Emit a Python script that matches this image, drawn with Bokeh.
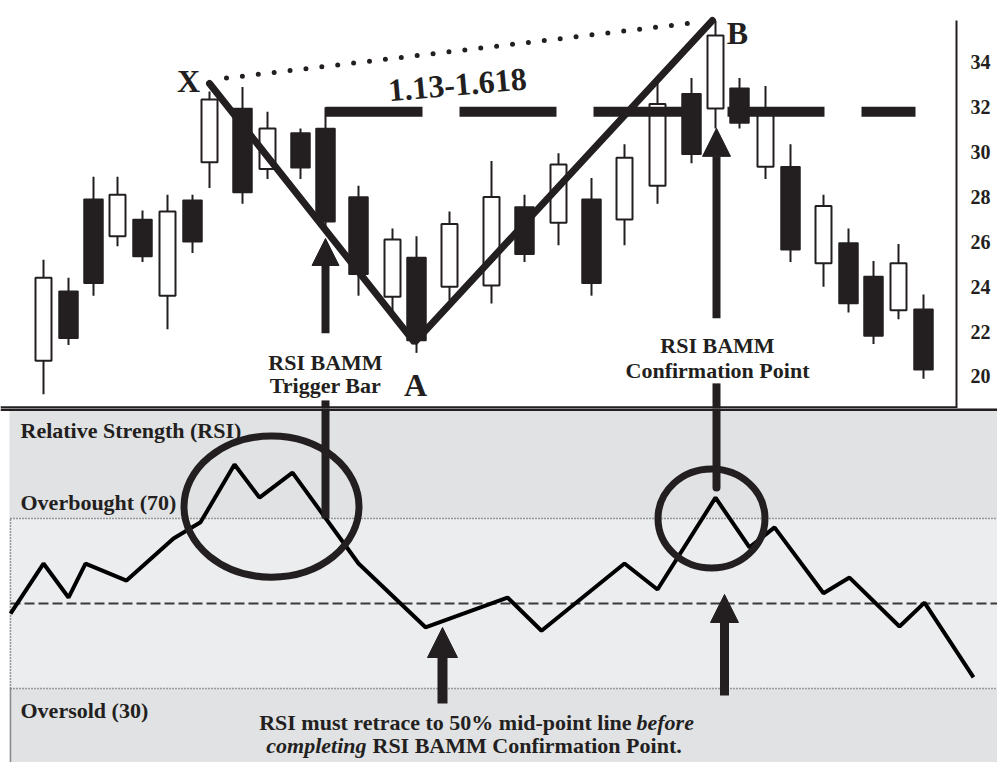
from bokeh.plotting import figure
from bokeh.layouts import column
from bokeh.models import Arrow, NormalHead, FixedTicker
from bokeh.core.properties import value
from bokeh.embed import file_html
from bokeh.resources import INLINE

INK = "#231f20"
FONT = value("Liberation Serif")

# ---- price candles (time position, OHLC) ----
t = [43, 68, 93, 117, 142, 167, 192, 209, 242, 267, 300, 325, 358, 392, 416, 449,
     491, 524, 558, 591, 624, 657, 691, 715, 739, 765, 790, 823, 848, 873, 898, 923]
opens = [20.7, 23.8, 27.9, 26.25, 27.0, 23.6, 27.85, 29.55, 31.95, 29.25, 30.85, 31.05,
         28.0, 23.55, 25.3, 24.0, 24.05, 27.55, 26.85, 27.9, 27.0, 28.5, 32.6, 31.95,
         32.85, 29.35, 29.35, 25.05, 25.95, 24.45, 22.95, 23.0]
highs = [25.2, 24.4, 28.9, 28.9, 27.4, 28.1, 28.1, 32.7, 32.9, 31.8, 31.05, 32.0,
         28.5, 26.6, 26.25, 27.35, 29.6, 28.1, 29.95, 28.85, 30.35, 33.1, 33.3, 35.85,
         33.3, 32.95, 30.35, 28.1, 26.6, 25.15, 25.9, 23.65]
lows = [19.2, 21.4, 23.6, 25.8, 25.1, 22.1, 25.5, 28.4, 27.7, 28.8, 28.8, 26.4,
        23.6, 22.85, 21.05, 23.4, 23.25, 25.1, 25.85, 23.6, 25.85, 27.7, 29.5, 31.05,
        31.05, 28.8, 25.1, 24.0, 22.85, 21.45, 22.55, 19.9]
closes = [24.4, 21.7, 24.15, 28.1, 25.35, 27.35, 26.0, 32.35, 28.2, 31.05, 29.3, 26.9,
          24.55, 26.1, 21.6, 26.8, 28.0, 25.45, 29.45, 24.15, 29.75, 32.15, 29.9, 35.2,
          31.3, 31.85, 25.65, 27.6, 23.25, 21.8, 25.05, 20.3]
price_ticks = [20, 22, 24, 26, 28, 30, 32, 34]

# ---- RSI ----
rsi_t = [10, 43, 68, 85, 126, 173, 200, 234, 259, 292, 358, 425, 507, 541, 624, 657,
         715, 749, 774, 823, 849, 899, 924, 973]
rsi = [47.6, 59.4, 51.4, 59.4, 55.4, 65.3, 69.1, 82.7, 74.9, 80.8, 59.4, 44.4, 51.4,
       43.6, 59.4, 53.3, 74.9, 63.2, 67.9, 52.4, 56.1, 44.6, 50.2, 32.6]
overbought, midline, oversold = 70, 50, 30

# pattern points X, A, B and the 1.13-1.618 level
xab_t = [209, 414, 712]
xab_p = [33.06, 21.52, 35.87]
level = 31.8

# ================= price panel =================
p1 = figure(frame_width=956, frame_height=408, x_range=(0, 956), y_range=(18.57, 36.76),
            output_backend="svg", toolbar_location=None,
            x_axis_location=None, y_axis_location="right", min_border=0)
p1.frame_align = False
p1.grid.visible = False
p1.outline_line_color = None
ax = p1.yaxis[0]
ax.ticker = FixedTicker(ticks=price_ticks)
ax.bounds = (18.0, 35.87)
ax.axis_line_width = 2
ax.axis_line_color = INK
ax.major_tick_line_color = None
ax.minor_tick_line_color = None
ax.major_tick_out = 0
ax.minor_tick_out = 0
ax.major_label_text_font = "Liberation Serif"
ax.major_label_text_font_size = "20px"
ax.major_label_text_font_style = "bold"
ax.major_label_text_color = INK
ax.major_label_standoff = 14

inc = [i for i in range(len(t)) if closes[i] > opens[i]]
dec = [i for i in range(len(t)) if closes[i] <= opens[i]]

p1.segment(x0=t, y0=highs, x1=t, y1=lows, line_color=INK, line_width=2)
p1.vbar(x=[t[i] for i in inc], bottom=[opens[i] for i in inc], top=[closes[i] for i in inc],
        width=16, fill_color="white", line_color=INK, line_width=2)
p1.vbar(x=[t[i] for i in dec], bottom=[closes[i] for i in dec], top=[opens[i] for i in dec],
        width=19, fill_color=INK, line_color=INK, line_width=1.5)

# level dashed line
p1.line(x=[325, 915], y=[level, level], line_color=INK, line_width=10, line_dash="97 37")
# X-A-B legs
p1.line(x=xab_t, y=xab_p, line_color=INK, line_width=7, line_cap="round")
# dotted X-B
p1.line(x=[226, 700], y=[33.3, 35.8], line_color=INK, line_width=5, line_dash="0 16",
        line_cap="round")

# connector lines down into RSI panel
p1.segment(x0=[325, 716], y0=[18.93, 19.69], x1=[325, 716], y1=[18.0, 18.0],
           line_color=INK, line_width=8)
# separator
p1.line(x=[0, 956], y=[18.60, 18.60], line_color=INK, line_width=3)

p1.add_layout(Arrow(end=NormalHead(size=27, fill_color=INK, line_color=INK, line_width=1),
                    x_start=325, y_start=21.92, x_end=325, y_end=26.15,
                    line_color=INK, line_width=8))
p1.add_layout(Arrow(end=NormalHead(size=28, fill_color=INK, line_color=INK, line_width=1),
                    x_start=716, y_start=22.59, x_end=716, y_end=31.06,
                    line_color=INK, line_width=8))

p1.text(x=[325, 325, 717, 717], y=[20.63, 19.60, 21.38, 20.27],
        text=["RSI BAMM", "Trigger Bar", "RSI BAMM", "Confirmation Point"],
        text_font=FONT, text_font_style="bold", text_font_size="22px",
        text_color=INK, text_align="center", text_baseline="alphabetic")
p1.text(x=[188, 415, 737], y=[33.15, 19.6, 35.29], text=["X", "A", "B"],
        text_font=FONT, text_font_style="bold", text_font_size="32px",
        text_color=INK, text_align="center", text_baseline="alphabetic")
p1.text(x=[457], y=[33.0], text=["1.13-1.618"], angle=0.087,
        text_font=FONT, text_font_style="bold", text_font_size="32px",
        text_color=INK, text_align="center", text_baseline="alphabetic")

# ================= RSI panel =================
p2 = figure(frame_width=997, frame_height=354, x_range=(0, 997), y_range=(12.59, 95.88),
            output_backend="svg", toolbar_location=None,
            x_axis_location=None, y_axis_location=None, min_border=0,
            background_fill_color="white")
p2.frame_align = False
p2.grid.visible = False
p2.outline_line_color = None

p2.quad(left=[9], right=[1000], bottom=[0], top=[100], fill_color="#e1e2e4", line_color=None)
p2.quad(left=[10], right=[1000], bottom=[oversold], top=[overbought],
        fill_color="#ecedef", line_color=None)
p2.segment(x0=[10, 10], y0=[overbought, oversold], x1=[1000, 1000], y1=[overbought, oversold],
           line_color="#4a4a4a", line_width=1.5, line_dash="1 2")
p2.segment(x0=[10], y0=[oversold], x1=[10], y1=[overbought],
           line_color="#4a4a4a", line_width=1.5, line_dash="1 2")
p2.segment(x0=[10], y0=[0], x1=[10], y1=[oversold], line_color="#8a8a8a", line_width=1.5)
p2.line(x=[10, 997], y=[midline, midline], line_color="#3a3a3a", line_width=2,
        line_dash="10 4")

p2.line(x=rsi_t, y=rsi, line_color="black", line_width=4)

p2.ellipse(x=[271, 711], y=[72.8, 70.0], width=[175, 107], height=[33.2, 23.3],
           fill_color=None, line_color=INK, line_width=7)

# connector lines from price panel
p2.segment(x0=[325], y0=[100], x1=[325], y1=[overbought], line_color=INK, line_width=8)
p2.segment(x0=[716], y0=[100], x1=[716], y1=[77.3], line_color=INK, line_width=8,
           line_cap="round")
# separator
p2.line(x=[0, 997], y=[95.65, 95.65], line_color=INK, line_width=3)

p2.add_layout(Arrow(end=NormalHead(size=30, fill_color=INK, line_color=INK, line_width=1),
                    x_start=442, y_start=26.47, x_end=442, y_end=44.35,
                    line_color=INK, line_width=10))
p2.add_layout(Arrow(end=NormalHead(size=28, fill_color=INK, line_color=INK, line_width=1),
                    x_start=724, y_start=28.35, x_end=724, y_end=52.12,
                    line_color=INK, line_width=9))

p2.text(x=[20, 20, 20], y=[90.7, 73.76, 24.82],
        text=["Relative Strength (RSI)", "Overbought (70)", "Oversold (30)"],
        text_font=FONT, text_font_style="bold", text_font_size="22px",
        text_color=INK, text_align="left", text_baseline="alphabetic")
p2.text(x=[631], y=[22.0], text=["RSI must retrace to 50% mid-point line"],
        text_font=FONT, text_font_style="bold", text_font_size="22px",
        text_color=INK, text_align="right", text_baseline="alphabetic")
p2.text(x=[636], y=[22.0], text=["before"],
        text_font=FONT, text_font_style="bold italic", text_font_size="22px",
        text_color=INK, text_align="left", text_baseline="alphabetic")
p2.text(x=[366], y=[16.59], text=["completing"],
        text_font=FONT, text_font_style="bold italic", text_font_size="22px",
        text_color=INK, text_align="right", text_baseline="alphabetic")
p2.text(x=[372], y=[16.59], text=["RSI BAMM Confirmation Point."],
        text_font=FONT, text_font_style="bold", text_font_size="22px",
        text_color=INK, text_align="left", text_baseline="alphabetic")

layout = column(p1, p2)
open("out.html", "w").write(file_html(layout, INLINE))
